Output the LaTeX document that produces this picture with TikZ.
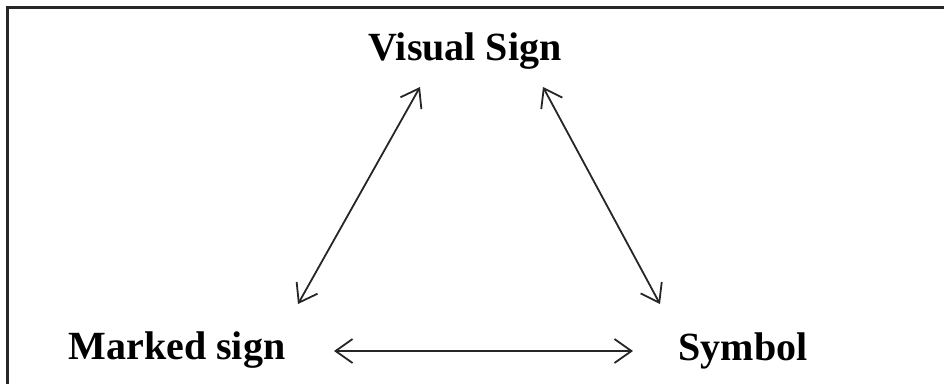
\documentclass[tikz,border=0pt]{standalone}
\usepackage{fontspec}
\setmainfont{Liberation Serif}
\usetikzlibrary{arrows.meta}
\tikzset{
  lbl/.style={font=\fontsize{40}{48}\selectfont\bfseries, inner sep=0pt, anchor=base},
  tipx/.tip={Straight Barb[length=17pt,width=24pt,line width=1.8pt]},
  link/.style={line width=1.8pt, draw=black!85, tipx-tipx},
  frame/.style={line width=3pt, draw=black!85}
}
\begin{document}
\begin{tikzpicture}[x=1pt,y=-1pt]
\useasboundingbox (0,0) rectangle (944,384);
\draw[frame] (7,384) -- (7,7) -- (944,7);
\node[lbl] (vs) at (465,60) {Visual Sign};
\node[lbl] (ms) at (177,359) {Marked sign};
\node[lbl] (sy) at (743,360) {Symbol};
\coordinate (vsL) at (420,87);
\coordinate (vsR) at (543,87);
\coordinate (msT) at (298,304);
\coordinate (syT) at (660,304);
\coordinate (msR) at (334,351);
\coordinate (syL) at (633,351);
\draw[link] (msT) -- (vsL);
\draw[link] (vsR) -- (syT);
\draw[link] (msR) -- (syL);
\end{tikzpicture}
\end{document}
